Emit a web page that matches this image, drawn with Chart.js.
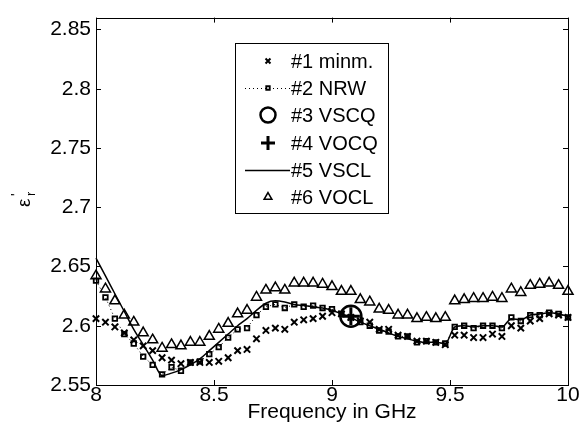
<!DOCTYPE html>
<html>
<head>
<meta charset="utf-8">
<script src="https://cdn.jsdelivr.net/npm/chart.js@4/dist/chart.umd.min.js"></script>
<style>
html, body { margin: 0; padding: 0; background: #fff; }
</style>
</head>
<body>
<canvas id="lineChart" width="581" height="443"></canvas>
<script>
// frecuencias (GHz)
var frecuencia = [8.00, 8.04, 8.08, 8.12, 8.16, 8.20, 8.24, 8.28, 8.32, 8.36,
    8.40, 8.44, 8.48, 8.52, 8.56, 8.60, 8.64, 8.68, 8.72, 8.76,
    8.80, 8.84, 8.88, 8.92, 8.96, 9.00, 9.04, 9.08, 9.12, 9.16,
    9.20, 9.24, 9.28, 9.32, 9.36, 9.40, 9.44, 9.48, 9.52, 9.56,
    9.60, 9.64, 9.68, 9.72, 9.76, 9.80, 9.84, 9.88, 9.92, 9.96, 10.00];

var minm = [2.606, 2.603, 2.599, 2.594, 2.588, 2.583, 2.579, 2.573, 2.571, 2.568,
    2.569, 2.569, 2.569, 2.570, 2.573, 2.579, 2.580, 2.589, 2.596, 2.598,
    2.597, 2.603, 2.605, 2.606, 2.608, 2.611, 2.610, 2.607, 2.604, 2.603,
    2.597, 2.597, 2.592, 2.591, 2.587, 2.587, 2.586, 2.584, 2.592, 2.592,
    2.590, 2.590, 2.593, 2.591, 2.600, 2.598, 2.604, 2.606, 2.610, 2.609, 2.607];

var nrw = [2.638, 2.624, 2.606, 2.593, 2.585, 2.574, 2.567, 2.559, 2.565, 2.562,
    2.569, 2.570, 2.576, 2.582, 2.590, 2.597, 2.598, 2.609, 2.616, 2.618,
    2.615, 2.618, 2.616, 2.617, 2.615, 2.614, 2.610, 2.607, 2.603, 2.600,
    2.596, 2.595, 2.591, 2.591, 2.586, 2.587, 2.586, 2.585, 2.599, 2.600,
    2.598, 2.600, 2.600, 2.598, 2.607, 2.604, 2.609, 2.609, 2.611, 2.610, 2.607];

var vsclY = [2.657, 2.642, 2.627, 2.612, 2.597, 2.584, 2.571, 2.558, 2.560, 2.563,
    2.567, 2.572, 2.579, 2.586, 2.593, 2.600, 2.606, 2.613, 2.619, 2.621,
    2.620, 2.618, 2.617, 2.616, 2.615, 2.613, 2.610, 2.607, 2.603, 2.600,
    2.597, 2.594, 2.591, 2.589, 2.587, 2.586, 2.586, 2.585, 2.599, 2.600,
    2.599, 2.600, 2.600, 2.599, 2.606, 2.605, 2.609, 2.610, 2.611, 2.610, 2.608];

var voclY = [2.642, 2.631, 2.621, 2.609, 2.603, 2.594, 2.588, 2.581, 2.584, 2.583,
    2.586, 2.586, 2.591, 2.597, 2.602, 2.610, 2.613, 2.624, 2.630, 2.632,
    2.630, 2.636, 2.636, 2.636, 2.635, 2.633, 2.629, 2.629, 2.622, 2.620,
    2.614, 2.613, 2.609, 2.609, 2.606, 2.607, 2.606, 2.607, 2.621, 2.622,
    2.623, 2.623, 2.624, 2.623, 2.631, 2.628, 2.634, 2.635, 2.636, 2.634, 2.629];

// puntos unicos
var vscqX = [9.08];
var vscqY = [2.608];
var vocqX = [9.08];
var vocqY = [2.608];

var ticksX = [8, 8.5, 9, 9.5, 10];
var ticksY = [2.55, 2.6, 2.65, 2.7, 2.75, 2.8, 2.85];

var fuente = "'Liberation Sans', Arial, Helvetica, sans-serif";

function puntos(xs, ys) {
    return xs.map(function (x, i) {
        return { x: x, y: ys[i] };
    });
}

// marco y ticks hacia adentro (estilo matlab)
var marco = {
    id: 'marco',
    afterDatasetsDraw: function (chart) {
        var ctx = chart.ctx;
        var a = chart.chartArea;
        var sx = chart.scales.x, sy = chart.scales.y;
        var l = 5;
        ctx.save();
        ctx.strokeStyle = '#000';
        ctx.lineWidth = 1;
        ctx.strokeRect(Math.round(a.left) + 0.5, Math.round(a.top) + 0.5,
            Math.round(a.right - a.left), Math.round(a.bottom - a.top));
        ctx.beginPath();
        ticksX.forEach(function (v) {
            var px = Math.round(sx.getPixelForValue(v)) + 0.5;
            ctx.moveTo(px, a.bottom); ctx.lineTo(px, a.bottom - l);
            ctx.moveTo(px, a.top); ctx.lineTo(px, a.top + l);
        });
        ticksY.forEach(function (v) {
            var py = Math.round(sy.getPixelForValue(v)) + 0.5;
            ctx.moveTo(a.left, py); ctx.lineTo(a.left + l, py);
            ctx.moveTo(a.right, py); ctx.lineTo(a.right - l, py);
        });
        ctx.stroke();

        // etiqueta eje y: epsilon'_r girado
        ctx.fillStyle = '#000';
        ctx.translate(30, 207);
        ctx.rotate(-Math.PI / 2);
        ctx.textBaseline = 'alphabetic';
        ctx.textAlign = 'left';
        ctx.font = '19px ' + fuente;
        ctx.fillText('\u03b5', 0, 0);
        ctx.font = '14px ' + fuente;
        ctx.fillText("'", 11, -9);
        ctx.font = '13px ' + fuente;
        ctx.fillText('r', 11, 5);
        ctx.restore();
    }
};

// leyenda dentro del grafico con recuadro
var leyenda = {
    id: 'leyenda',
    afterDraw: function (chart) {
        var ctx = chart.ctx;
        var x0 = 235, y0 = 43, w = 153, h = 170;
        ctx.save();
        ctx.fillStyle = '#fff';
        ctx.fillRect(x0, y0, w, h);
        ctx.strokeStyle = '#000';
        ctx.lineWidth = 1;
        ctx.strokeRect(x0 + 0.5, y0 + 0.5, w, h);
        chart.data.datasets.forEach(function (ds, i) {
            var y = Math.round(60.7 + i * 27.3);
            ctx.strokeStyle = '#000';
            if (ds.showLine) {
                ctx.save();
                ctx.lineWidth = ds.borderWidth;
                ctx.setLineDash(ds.borderDash || []);
                ctx.beginPath();
                ctx.moveTo(245, y + 0.5);
                ctx.lineTo(290, y + 0.5);
                ctx.stroke();
                ctx.restore();
            }
            if (ds.leyendaRadio > 0) {
                ctx.save();
                ctx.fillStyle = 'rgba(0,0,0,0)';
                ctx.lineWidth = ds.pointBorderWidth;
                ctx.setLineDash([]);
                Chart.helpers.drawPoint(ctx, {
                    pointStyle: ds.pointStyle,
                    rotation: 0,
                    radius: ds.leyendaRadio,
                    borderWidth: ds.pointBorderWidth
                }, 268, y);
                ctx.restore();
            }
            ctx.fillStyle = '#000';
            ctx.font = '20px ' + fuente;
            ctx.textBaseline = 'middle';
            ctx.textAlign = 'left';
            ctx.fillText(ds.label, 291, y + 1);
        });
        ctx.restore();
    }
};

var ctxL = document.getElementById("lineChart").getContext('2d');
var grafico = new Chart(ctxL, {
    type: 'line',
    data: {
        datasets: [{
                label: '#1 minm.',
                data: puntos(frecuencia, minm),
                showLine: false,
                borderColor: '#000',
                pointStyle: 'crossRot',
                pointRadius: 4.5,
                pointBorderWidth: 2,
                pointBorderColor: '#000',
                leyendaRadio: 3.5,
                clip: false
            },
            {
                label: '#2 NRW',
                data: puntos(frecuencia, nrw),
                showLine: true,
                borderColor: '#000',
                borderWidth: 1,
                borderDash: [1, 3],
                pointStyle: 'rect',
                pointRadius: 3.2,
                pointBorderWidth: 1.8,
                pointBorderColor: '#000',
                pointBackgroundColor: 'rgba(0,0,0,0)',
                leyendaRadio: 2.5,
                clip: false
            },
            {
                label: '#3 VSCQ',
                data: puntos(vscqX, vscqY),
                showLine: false,
                borderColor: '#000',
                pointStyle: 'circle',
                pointRadius: 10.5,
                pointBorderWidth: 2.5,
                pointBorderColor: '#000',
                pointBackgroundColor: 'rgba(0,0,0,0)',
                leyendaRadio: 7.5,
                clip: false
            },
            {
                label: '#4 VOCQ',
                data: puntos(vocqX, vocqY),
                showLine: false,
                borderColor: '#000',
                pointStyle: 'cross',
                pointRadius: 9,
                pointBorderWidth: 3,
                pointBorderColor: '#000',
                leyendaRadio: 7,
                clip: false
            },
            {
                label: '#5 VSCL',
                data: puntos(frecuencia, vsclY),
                showLine: true,
                borderColor: '#000',
                borderWidth: 1.5,
                pointRadius: 0,
                cubicInterpolationMode: 'monotone',
                leyendaRadio: 0,
                clip: false
            },
            {
                label: '#6 VOCL',
                data: puntos(frecuencia, voclY),
                showLine: false,
                borderColor: '#000',
                pointStyle: 'triangle',
                pointRadius: 5.8,
                pointBorderWidth: 1.5,
                pointBorderColor: '#000',
                pointBackgroundColor: 'rgba(0,0,0,0)',
                leyendaRadio: 4.5,
                clip: false
            }
        ]
    },
    options: {
        responsive: false,
        animation: false,
        layout: { padding: { top: 6, right: 13, left: 0, bottom: 0 } },
        plugins: {
            legend: { display: false },
            tooltip: { enabled: false }
        },
        scales: {
            x: {
                type: 'linear',
                min: 8,
                max: 10,
                afterBuildTicks: function (s) {
                    s.ticks = ticksX.map(function (v) { return { value: v }; });
                },
                afterFit: function (s) { s.height = 58; },
                grid: { display: false, drawTicks: false },
                border: { display: false },
                ticks: {
                    autoSkip: false,
                    maxRotation: 0,
                    padding: -2,
                    color: '#000',
                    font: { family: fuente, size: 21 },
                    callback: function (v) { return String(v); }
                },
                title: {
                    display: true,
                    text: 'Frequency in GHz',
                    color: '#000',
                    font: { family: fuente, size: 21 },
                    padding: { top: 0, bottom: 18 }
                }
            },
            y: {
                min: 2.55,
                max: 2.86,
                afterBuildTicks: function (s) {
                    s.ticks = ticksY.map(function (v) { return { value: v }; });
                },
                afterFit: function (s) { s.width = 96; },
                grid: { display: false, drawTicks: false },
                border: { display: false },
                ticks: {
                    padding: 5,
                    color: '#000',
                    font: { family: fuente, size: 21 },
                    callback: function (v) { return String(v); }
                }
            }
        }
    },
    plugins: [marco, leyenda]
});
</script>
</body>
</html>
